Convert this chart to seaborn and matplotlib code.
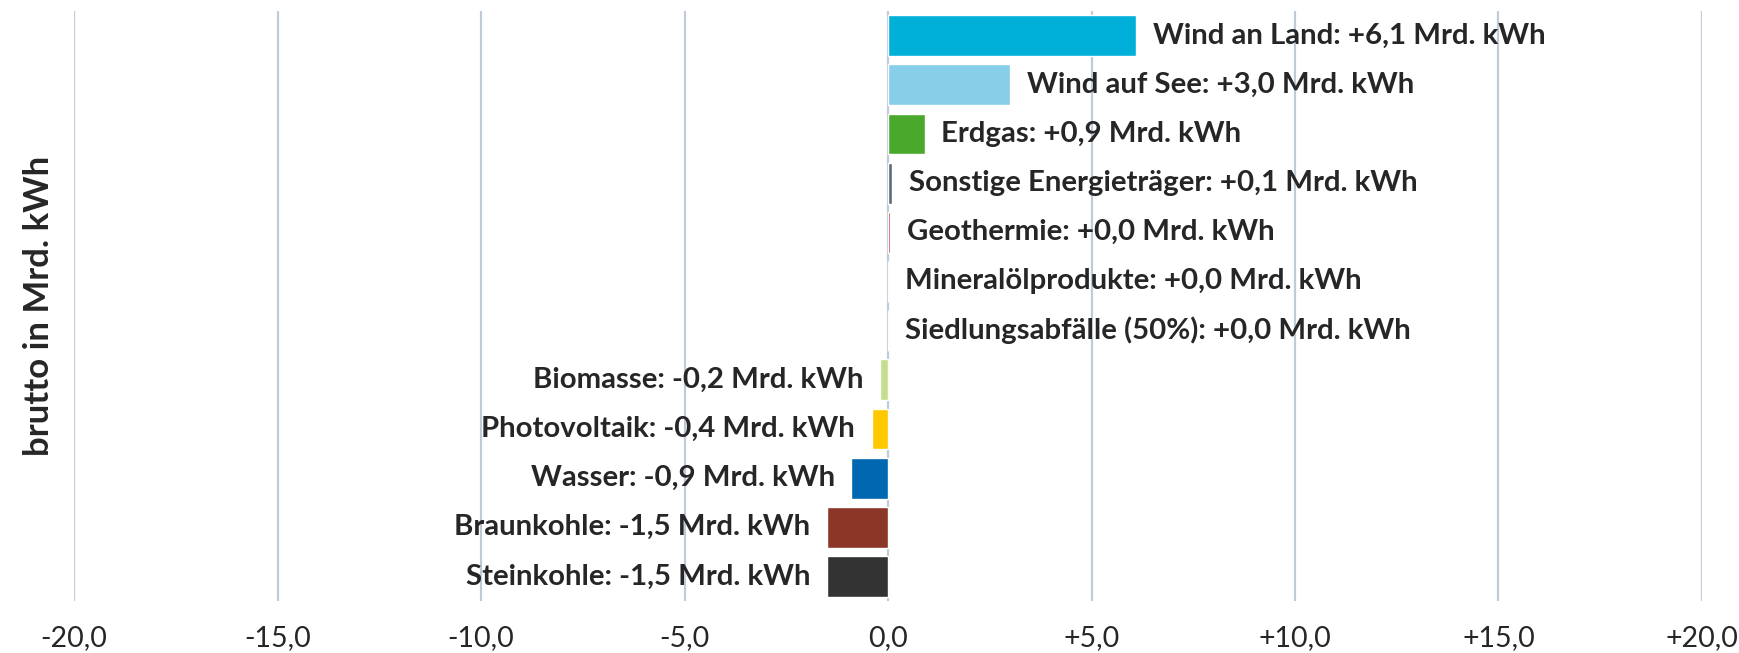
import matplotlib
matplotlib.use("Agg")
import matplotlib.pyplot as plt
import seaborn as sns
import pandas as pd

# Veraenderung der Bruttostromerzeugung nach Energietraeger
sources = ["Wind an Land", "Wind auf See", "Erdgas", "Sonstige Energieträger", "Geothermie",
           "Mineralölprodukte", "Siedlungsabfälle (50%)", "Biomasse", "Photovoltaik",
           "Wasser", "Braunkohle", "Steinkohle"]
change = [6.1, 3.0, 0.9, 0.1, 0.045, 0.0, 0.0, -0.2, -0.4, -0.9, -1.5, -1.5]
colors = ["#00B0D8", "#87CEE8", "#4AA82C", "#5B6B7B", "#C0282D", "#A0A0A0", "#A0A0A0",
          "#C5DE8E", "#FFC800", "#0068B0", "#8B3626", "#333333"]
ticks = [-20, -15, -10, -5, 0, 5, 10, 15, 20]

df = pd.DataFrame({"source": sources, "change": change})

sns.set_style("white")
plt.rcParams["font.family"] = ["Lato", "DejaVu Sans"]

fig = plt.figure(figsize=(17.39, 6.53), dpi=100)
ax = fig.add_axes([0.0426, 0.0796, 0.9361, 0.9035])

# gridlines behind the bars
for t in ticks:
    ax.axvline(t, color="#BFCBD8", lw=1.6, zorder=0)

sns.barplot(data=df, x="change", y="source", hue="source", palette=colors, orient="h",
            width=0.83, legend=False, ax=ax, zorder=2, saturation=1)

# Beschriftung an den Balkenenden
for i, (s, v) in enumerate(zip(sources, change)):
    txt = f"{s}: {round(v, 1):+.1f} Mrd. kWh".replace(".", ",", 1)
    if v >= 0:
        ax.annotate(txt, (v, i), xytext=(12, 0), textcoords="offset points",
                    ha="left", va="center", fontsize=21.2, fontweight="bold")
    else:
        ax.annotate(txt, (v, i), xytext=(-12, 0), textcoords="offset points",
                    ha="right", va="center", fontsize=21.2, fontweight="bold")

ax.set_xlim(-20, 20)
ax.set_ylim(11.5, -0.5)
ax.set_xticks(ticks)
ax.set_xticklabels([f"{t:+.1f}".replace(".", ",") if t != 0 else "0,0" for t in ticks], fontsize=20.5)
ax.tick_params(axis="x", length=0, pad=17)
ax.set_yticks([])
ax.set_xlabel("")
ax.set_ylabel("brutto in Mrd. kWh", fontsize=25, fontweight="bold", labelpad=14)
for sp in ax.spines.values():
    sp.set_visible(False)

fig.savefig("out.png", dpi=100)
